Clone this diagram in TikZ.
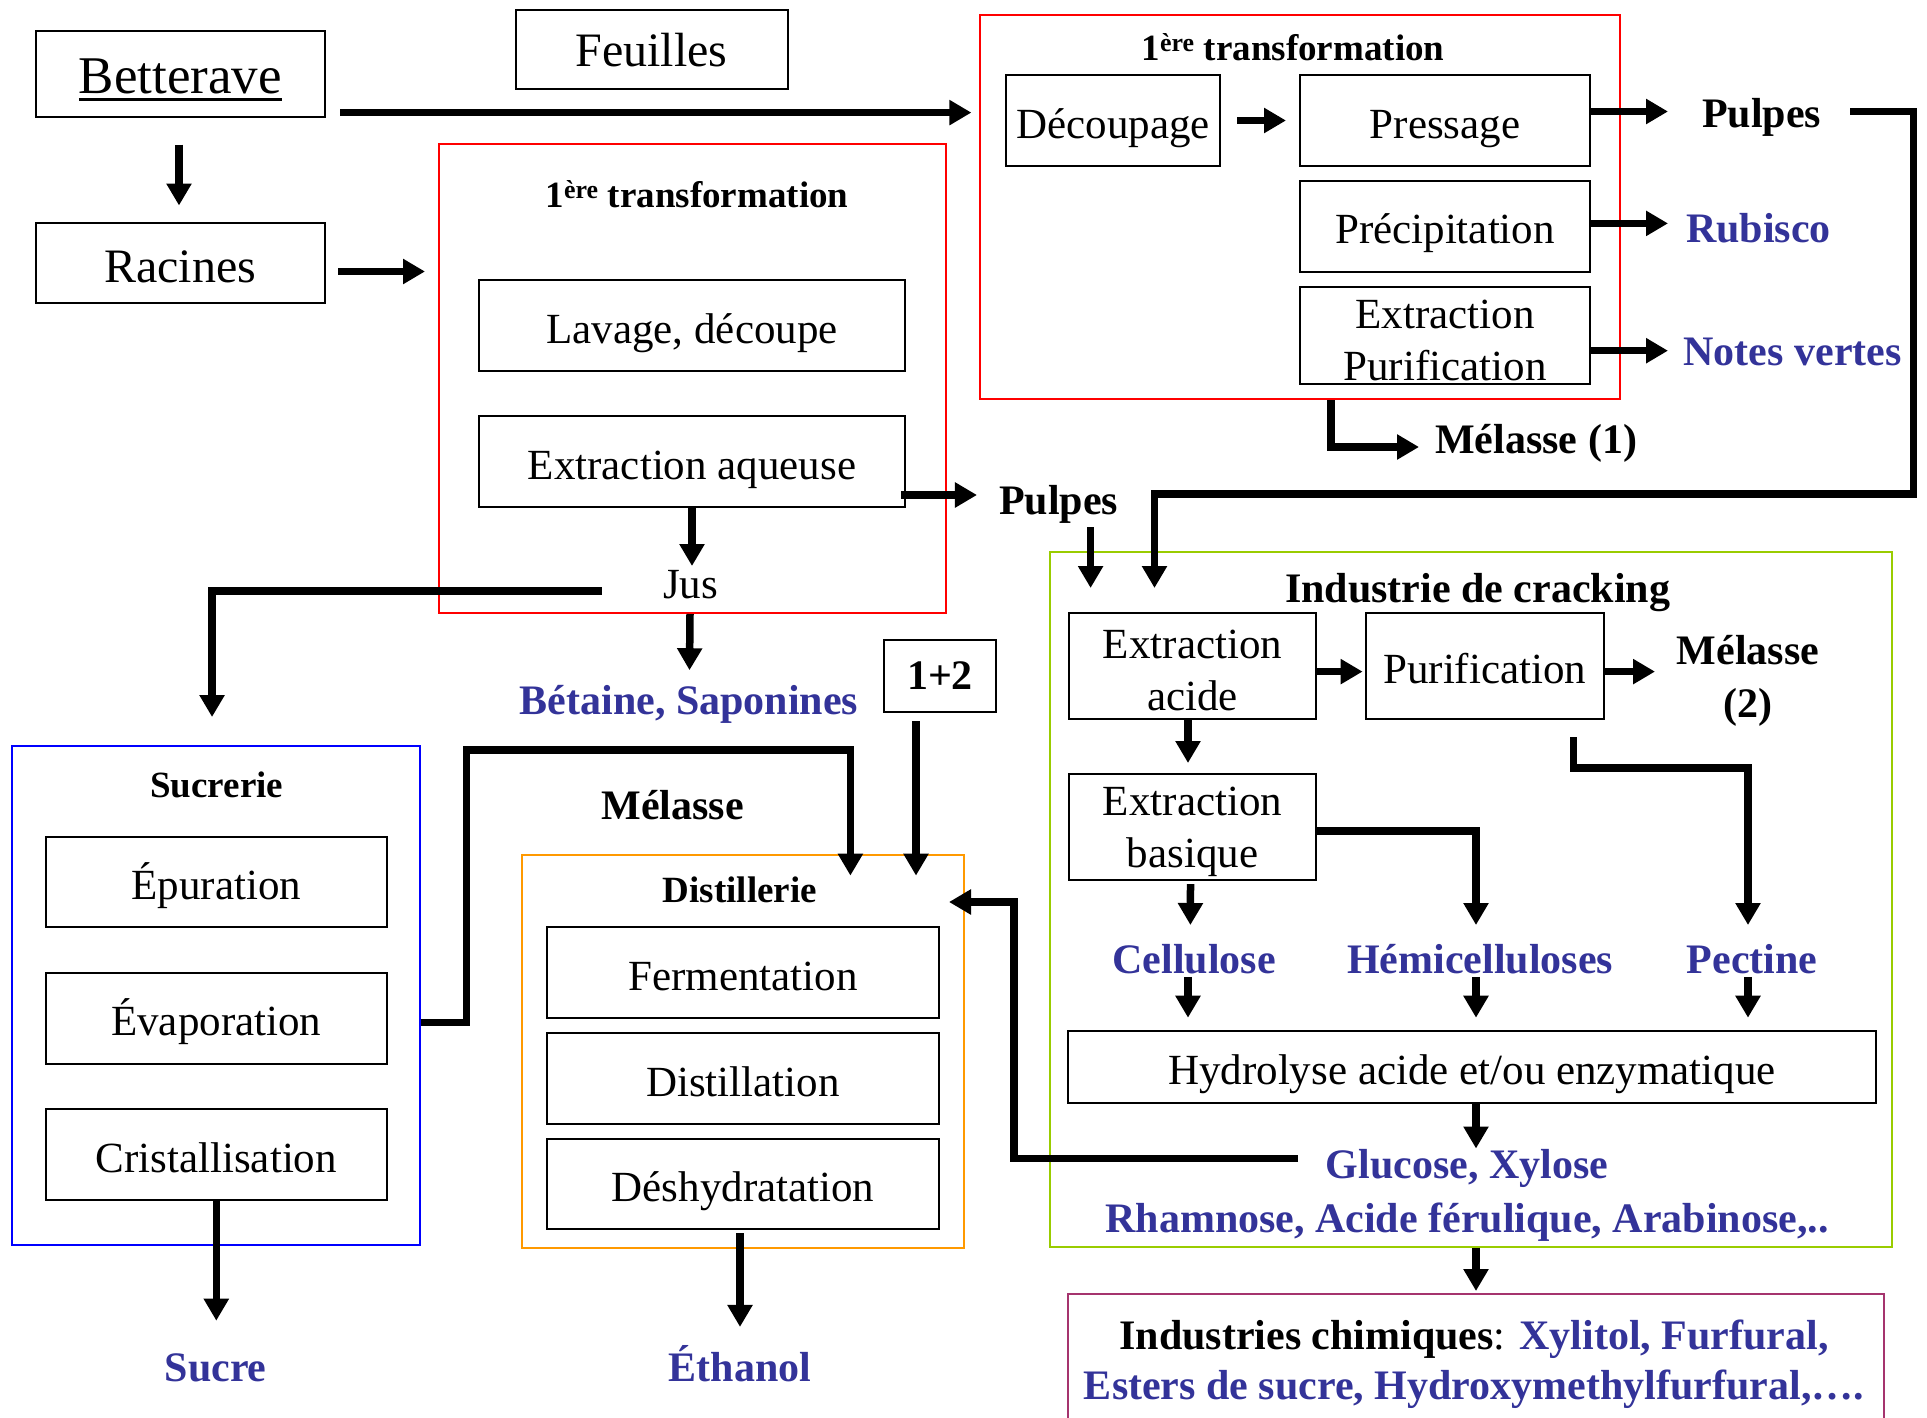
\documentclass[tikz,border=0pt]{standalone}
\usepackage{fontspec}
\setmainfont{Liberation Serif}
\usetikzlibrary{arrows.meta,calc}
\definecolor{prodblue}{RGB}{51,51,153}
\definecolor{frameorange}{RGB}{255,153,0}
\definecolor{framegreen}{RGB}{153,204,0}
\definecolor{framepurple}{RGB}{165,52,110}
\newcommand{\firstline}{\rule{0pt}{38.4pt}}
\begin{document}
\begin{tikzpicture}[x=1pt,y=-1pt,
  box/.style={draw=black, line width=2pt, inner sep=0pt, align=center,
    font=\fontsize{43}{52}\selectfont},
  sbox/.style={box, text height=35.3pt, text depth=0pt},
  frame/.style={line width=2pt, inner sep=0pt},
  lblbase/.style={inner sep=0pt, align=center, font=\bfseries\fontsize{42}{53}\selectfont},
  lbl/.style={lblbase, text depth=0pt},
  prod/.style={lbl, text=prodblue},
  ttl/.style={inner sep=0pt, font=\bfseries\fontsize{37}{44}\selectfont},
  arr/.style={line width=7.5pt, -{Triangle[length=22pt,width=24pt]}},
]
\useasboundingbox (0,0) rectangle (1927,1418);

% process frames
\node[frame, draw=red, minimum width=507pt, minimum height=468.7pt] (red1) at (692.5,378.65) {};
\node[frame, draw=red, minimum width=639.6pt, minimum height=384.4pt] (red2) at (1300.2,207.2) {};
\node[frame, draw=blue, minimum width=408.1pt, minimum height=499.4pt] (sucbox) at (215.55,995.7) {};
\node[frame, draw=frameorange, minimum width=442pt, minimum height=393pt] (distbox) at (742.7,1051.5) {};
\node[frame, draw=framegreen, minimum width=841.5pt, minimum height=694.6pt] (green) at (1470.75,899.3) {};
\node[frame, draw=framepurple, minimum width=816pt, minimum height=128pt] (indbox) at (1476,1358) {};

% frame titles
\node[ttl] (title1) at (697,193.7) {1\textsuperscript{ère} transformation};
\node[ttl] (title2) at (1293,47.5) {1\textsuperscript{ère} transformation};
\node[ttl] (suctitle) at (216.8,784.7) {Sucrerie};
\node[ttl] (disttitle) at (740,890) {Distillerie};
\node[lbl] (cracktitle) at (1477.7,587.6) {Industrie de cracking};

% raw material
\node[sbox, text height=39.75pt, minimum width=289.4pt, minimum height=85.8pt] (bet) at (180.3,73.7)
  {\fontsize{53}{60}\selectfont\setbox0\hbox{Betterave}\rlap{\rule[-7pt]{\wd0}{3pt}}\box0};
\node[box, minimum width=272pt, minimum height=79.5pt] (feu) at (651.5,49.6)
  {\fontsize{48}{56}\selectfont Feuilles};
\node[sbox, text height=39.4pt, minimum width=289.4pt, minimum height=80pt] (rac) at (180.3,262.5)
  {\fontsize{48}{56}\selectfont Racines};

% roots: first transformation
\node[sbox, minimum width=426pt, minimum height=91pt] (lav) at (692,325.5) {Lavage, découpe};
\node[sbox, minimum width=426pt, minimum height=91pt] (extaq) at (692,461.5) {Extraction aqueuse};
\node[inner sep=0pt, font=\fontsize{43}{50}\selectfont] (jus) at (690.6,585) {Jus};

% leaves: first transformation
\node[sbox, minimum width=214pt, minimum height=91pt] (dec) at (1113,120.5) {Découpage};
\node[sbox, minimum width=290pt, minimum height=91pt] (pre) at (1445,120.5) {Pressage};
\node[sbox, minimum width=290pt, minimum height=91pt] (prec) at (1445,226.2) {Précipitation};
\node[box, minimum width=290pt, minimum height=97pt] (extpur) at (1445,335.1) {\firstline Extraction\\Purification};

% leaf products
\node[lbl] (pulpes1) at (1761.7,112.7) {Pulpes};
\node[prod] (rubisco) at (1758.6,228) {Rubisco};
\node[prod] (notes) at (1792.6,352) {Notes vertes};
\node[lbl, anchor=west] (mel1) at (1435,439) {Mélasse (1)};
\node[lbl] (pulpes2) at (1058.7,500) {Pulpes};
\node[prod] (betaine) at (689,700) {Bétaine, Saponines};
\node[box, minimum width=112pt, minimum height=72pt, font=\bfseries\fontsize{42}{50}\selectfont] (onetwo) at (940,676) {1+2};
\node[lbl] (melasse) at (672.8,804.5) {Mélasse};

% sugar factory
\node[sbox, minimum width=340.5pt, minimum height=90.4pt] (epu) at (216.3,882.2) {Épuration};
\node[sbox, minimum width=340.5pt, minimum height=90.4pt] (eva) at (216.3,1018.3) {Évaporation};
\node[sbox, minimum width=340.5pt, minimum height=90.4pt] (cri) at (216.3,1154.5) {Cristallisation};
\node[prod] (sucre) at (215.6,1368) {Sucre};

% distillery
\node[sbox, minimum width=392pt, minimum height=90.6pt] (fer) at (743,972.7) {Fermentation};
\node[sbox, minimum width=392pt, minimum height=90.6pt] (dis) at (743,1078.5) {Distillation};
\node[sbox, minimum width=392pt, minimum height=90.6pt] (des) at (743,1184) {Déshydratation};
\node[prod] (ethanol) at (740,1363) {Éthanol};

% cracking industry
\node[box, minimum width=247pt, minimum height=106pt] (exac) at (1192.5,666) {\firstline Extraction\\acide};
\node[sbox, minimum width=237.6pt, minimum height=106pt] (pur) at (1484.8,666) {Purification};
\node[lblbase] (mel2) at (1747.9,680.5) {Mélasse\\(2)};
\node[box, minimum width=247pt, minimum height=106pt] (exba) at (1192.5,827) {\firstline Extraction\\basique};
\node[prod] (cellulose) at (1194,958.8) {Cellulose};
\node[prod] (hemi) at (1480,958.8) {Hémicelluloses};
\node[prod] (pectine) at (1752,958.8) {Pectine};
\node[sbox, minimum width=808pt, minimum height=72pt] (hyd) at (1472,1067) {Hydrolyse acide et/ou enzymatique};
\node[prod] (glucose) at (1467,1164.3) {Glucose, Xylose};
\node[prod] (rhamnose) at (1467,1217.5) {Rhamnose, Acide férulique, Arabinose,..};

% chemical industries
\node[lblbase, font=\fontsize{42}{50}\selectfont] (indtext) at (1474,1364.5)
  {\textbf{Industries chimiques}: \textcolor{prodblue}{\textbf{Xylitol, Furfural,}}\\
   \textcolor{prodblue}{\textbf{Esters de sucre, Hydroxymethylfurfural,….}}};

% connectors
\draw[arr] ($(bet.south east)+(14,-5)$) -- ($(red2.west |- bet.south east)+(-8,-5)$);
\draw[arr, shorten <=27pt, shorten >=16pt] ($(bet.south)+(-1.3,0)$) -- ($(rac.north)+(-1.3,0)$);
\draw[arr] ($(rac.east)+(12,9)$) -- ($(red1.west |- rac.east)+(-13,9)$);
\draw[arr, shorten <=16pt, shorten >=13pt] (dec.east) -- (pre.west);
\draw[arr] ($(pre.east)+(0,-9)$) -- ++(77,0);
\draw[arr] ($(prec.east)+(0,-2.8)$) -- ++(77,0);
\draw[arr] ($(extpur.east)+(0,15.6)$) -- ++(77,0);
\draw[arr] ($(extpur.south west |- red2.south)+(32,0)$) |- ($(mel1.west)+(-16,8)$);
\draw[arr] ($(pulpes1.east)+(29,-1)$) -| ++(63,382.5) -| ($(exac.north west)+(86.5,-24)$);
\draw[arr] ($(extaq.east)+(-5,33.5)$) -- ($(pulpes2.west |- extaq.east)+(-22,33.5)$);
\draw[arr] ($(exac.north west)+(22.6,-85)$) -- ($(exac.north west)+(22.6,-24)$);
\draw[arr] (extaq.south) -- ++(0,58);
\draw[arr] ($(jus.west)+(-61,6)$) -| ($(sucbox.north)+(-3.5,-28)$);
\draw[arr] ($(red1.south)+(-2.5,0)$) -- ($(betaine.north)+(0.5,-15)$);
\draw[arr] ($(onetwo.south)+(-24,8)$) -- ($(onetwo.south |- distbox.north)+(-24,21.6)$);
\draw[arr] ($(sucbox.east |- eva.east)+(0,4)$) -- ++(46,0) |- ($(distbox.north west)+(329.7,-104)$) -- ($(distbox.north west)+(329.7,21.6)$);
\draw[arr] (cri.south) -- ++(0,120);
\draw[arr] ($(des.south)+(-3,3)$) -- ++(0,93.6);
\draw[arr] ($(glucose.west)+(-27.5,-5.6)$) -| ($(distbox.north east)+(49.3,48)$) -- ($(distbox.north east)+(-15.7,48)$);
\draw[arr] ($(exac.east)+(0,5.6)$) -- ($(pur.west)+(-2.4,5.6)$);
\draw[arr] ($(pur.east)+(0,5.6)$) -- ++(50.4,0);
\draw[arr] ($(pur.south east)+(-31.3,17)$) -- ++(0,30.8) -| ($(pectine.center)+(-4,-33.8)$);
\draw[arr] ($(exac.south)+(-4.5,0)$) -- ($(exba.north)+(-4.5,-10)$);
\draw[arr] ($(exba.east)+(0,4)$) -| ($(hemi.center)+(-4,-33.8)$);
\draw[arr] ($(exba.south)+(-2,3)$) -- ($(cellulose.center)+(-3.6,-33.8)$);
\draw[arr] ($(cellulose.center)+(-6,18)$) -- ($(cellulose.center |- hyd.north)+(-6,-12.3)$);
\draw[arr] ($(hemi.center)+(-4,18)$) -- ($(hemi.center |- hyd.north)+(-4,-12.3)$);
\draw[arr] ($(pectine.center)+(-4,18)$) -- ($(pectine.center |- hyd.north)+(-4,-12.3)$);
\draw[arr] ($(hyd.south)+(4,0)$) -- ++(0,44.5);
\draw[arr] ($(hyd.south |- green.south)+(4,0)$) -- ++(0,43.4);
\end{tikzpicture}
\end{document}
